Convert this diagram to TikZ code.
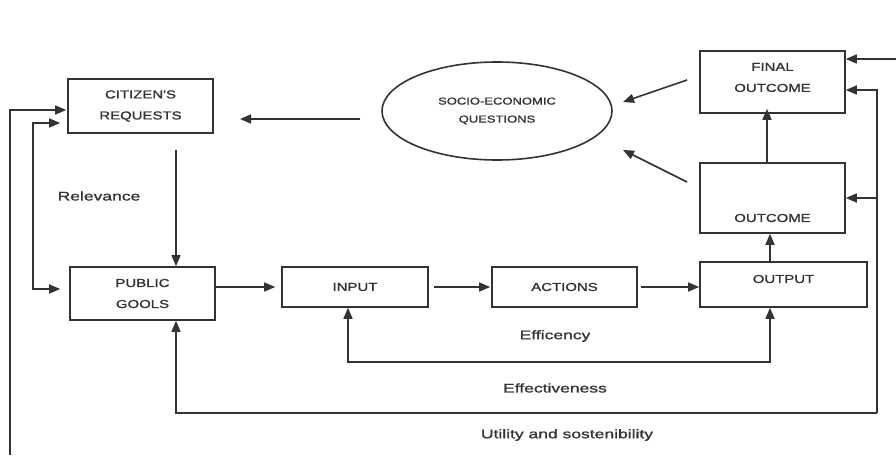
\documentclass[tikz,border=0pt]{standalone}
\usepackage{fontspec}
\setmainfont{Liberation Sans}
\newfontfamily\boxfont{Liberation Sans}[FakeStretch=1.3,FakeBold=1.2]
\newfontfamily\lblfont{Liberation Sans}[FakeStretch=1.4,FakeBold=1.2]
\usetikzlibrary{arrows.meta,calc,shapes.geometric}
\definecolor{ink}{HTML}{333333}
\tikzset{
  box/.style={draw=ink,line width=1.6pt,rectangle,inner sep=0pt,align=center,
    font=\boxfont\fontsize{11.5}{21}\selectfont,text=ink},
  lbl/.style={inner sep=0pt,font=\lblfont\fontsize{12.5}{15}\selectfont,text=ink},
  tip/.style={Triangle[length=11pt,width=9pt]},
  arr/.style={draw=ink,line width=1.6pt,-{Triangle[length=11pt,width=9pt]}},
  darr/.style={draw=ink,line width=1.6pt,{Triangle[length=11pt,width=9pt]}-{Triangle[length=11pt,width=9pt]}}
}
\begin{document}
\begin{tikzpicture}[x=1pt,y=-1pt]
\useasboundingbox[fill=white] (0,0) rectangle (896,455);

% boxes
\node[box,minimum width=145pt,minimum height=54pt] (cit) at (140.5,106) {CITIZEN'S\\REQUESTS};
\node[box,minimum width=145pt,minimum height=53pt] (pub) at (142.5,293.5) {PUBLIC\\GOOLS};
\node[box,minimum width=146pt,minimum height=40pt] (inp) at (355,287) {INPUT};
\node[box,minimum width=145pt,minimum height=40pt] (act) at (564.5,287) {ACTIONS};
\node[box,minimum width=167pt,minimum height=45pt] (out) at (783.5,284.5) {};
\node[box,draw=none] (outtxt) at (783.5,279) {OUTPUT};
\node[box,minimum width=145pt,minimum height=70pt] (oc) at (772.5,198) {};
\node[box,draw=none] (octxt) at (772.5,218) {OUTCOME};
\node[box,minimum width=145pt,minimum height=62pt] (fin) at (772.5,82) {};
\node[box,draw=none] (fintxt) at (772.5,77.5) {FINAL\\OUTCOME};
\node[draw=ink,line width=1.6pt,ellipse,minimum width=230pt,minimum height=98pt,inner sep=0pt,
  align=center,font=\boxfont\fontsize{10}{18}\selectfont,text=ink] (soc) at (497,111) {SOCIO-ECONOMIC\\QUESTIONS};

% free ends of connectors
\coordinate (socL) at (360,119);
\coordinate (citR) at (240,119);
\coordinate (citB) at (176,150);
\coordinate (finA) at (687,80);
\coordinate (socA) at (623,102);
\coordinate (ocA) at (687,182);
\coordinate (socB) at (623,150);
\coordinate (edge) at (896,59);
\coordinate (rt) at (877,90);
\coordinate (rb) at (877,413);
\coordinate (lb) at (176,413);
\coordinate (effL) at (348,362);
\coordinate (effR) at (770,362);
\coordinate (relT) at (33,123);
\coordinate (relB) at (33,289);
\coordinate (farT) at (10,110);
\coordinate (farB) at (10,455);

% main flow
\draw[arr] (socL) -- (citR);
\draw[arr] (citB) -- (citB |- pub.north);
\draw[arr] ($(pub.east)+(0,-6.5)$) -- ([xshift=-6pt]inp.west);
\draw[arr] ([xshift=5pt]inp.east) -- ([xshift=-1pt]act.west);
\draw[arr] ([xshift=3pt]act.east) -- ([yshift=-2.5pt]out.west);
\draw[arr] ($(out.north)+(-13.5,0)$) -- ($(oc.south)+(-2.5,0)$);
\draw[arr] ($(oc.north)+(-5.5,0)$) -- ($(fin.south)+(-5.5,-5)$);
\draw[arr] (finA) -- (socA);
\draw[arr] (ocA) -- (socB);

% feedback on the right
\draw[arr] (edge) -- (edge -| fin.east);
\draw[arr] (rb) -- (rt) -- (rt -| fin.east);
\draw[arr] (rt |- oc.east) -- (oc.east);
\draw[arr] (rb) -- (lb) -- (lb |- pub.south);

% efficiency loop
\draw[darr] (effL |- inp.south) -- (effL) -- (effR) -- (effR |- out.south);

% relevance loop on the left
\draw[darr,shorten <=7pt,shorten >=9pt] (relT -| cit.west) -- (relT) -- (relB) -- (relB -| pub.west);
\draw[arr,shorten >=1pt] (farB) -- (farT) -- (farT -| cit.west);

% labels
\node[lbl] (relev) at (99,196) {Relevance};
\node[lbl] (effic) at (555,336) {Efficency};
\node[lbl] (effect) at (555,388) {Effectiveness};
\node[lbl] (util) at (567,435) {Utility and sostenibility};
\end{tikzpicture}
\end{document}
